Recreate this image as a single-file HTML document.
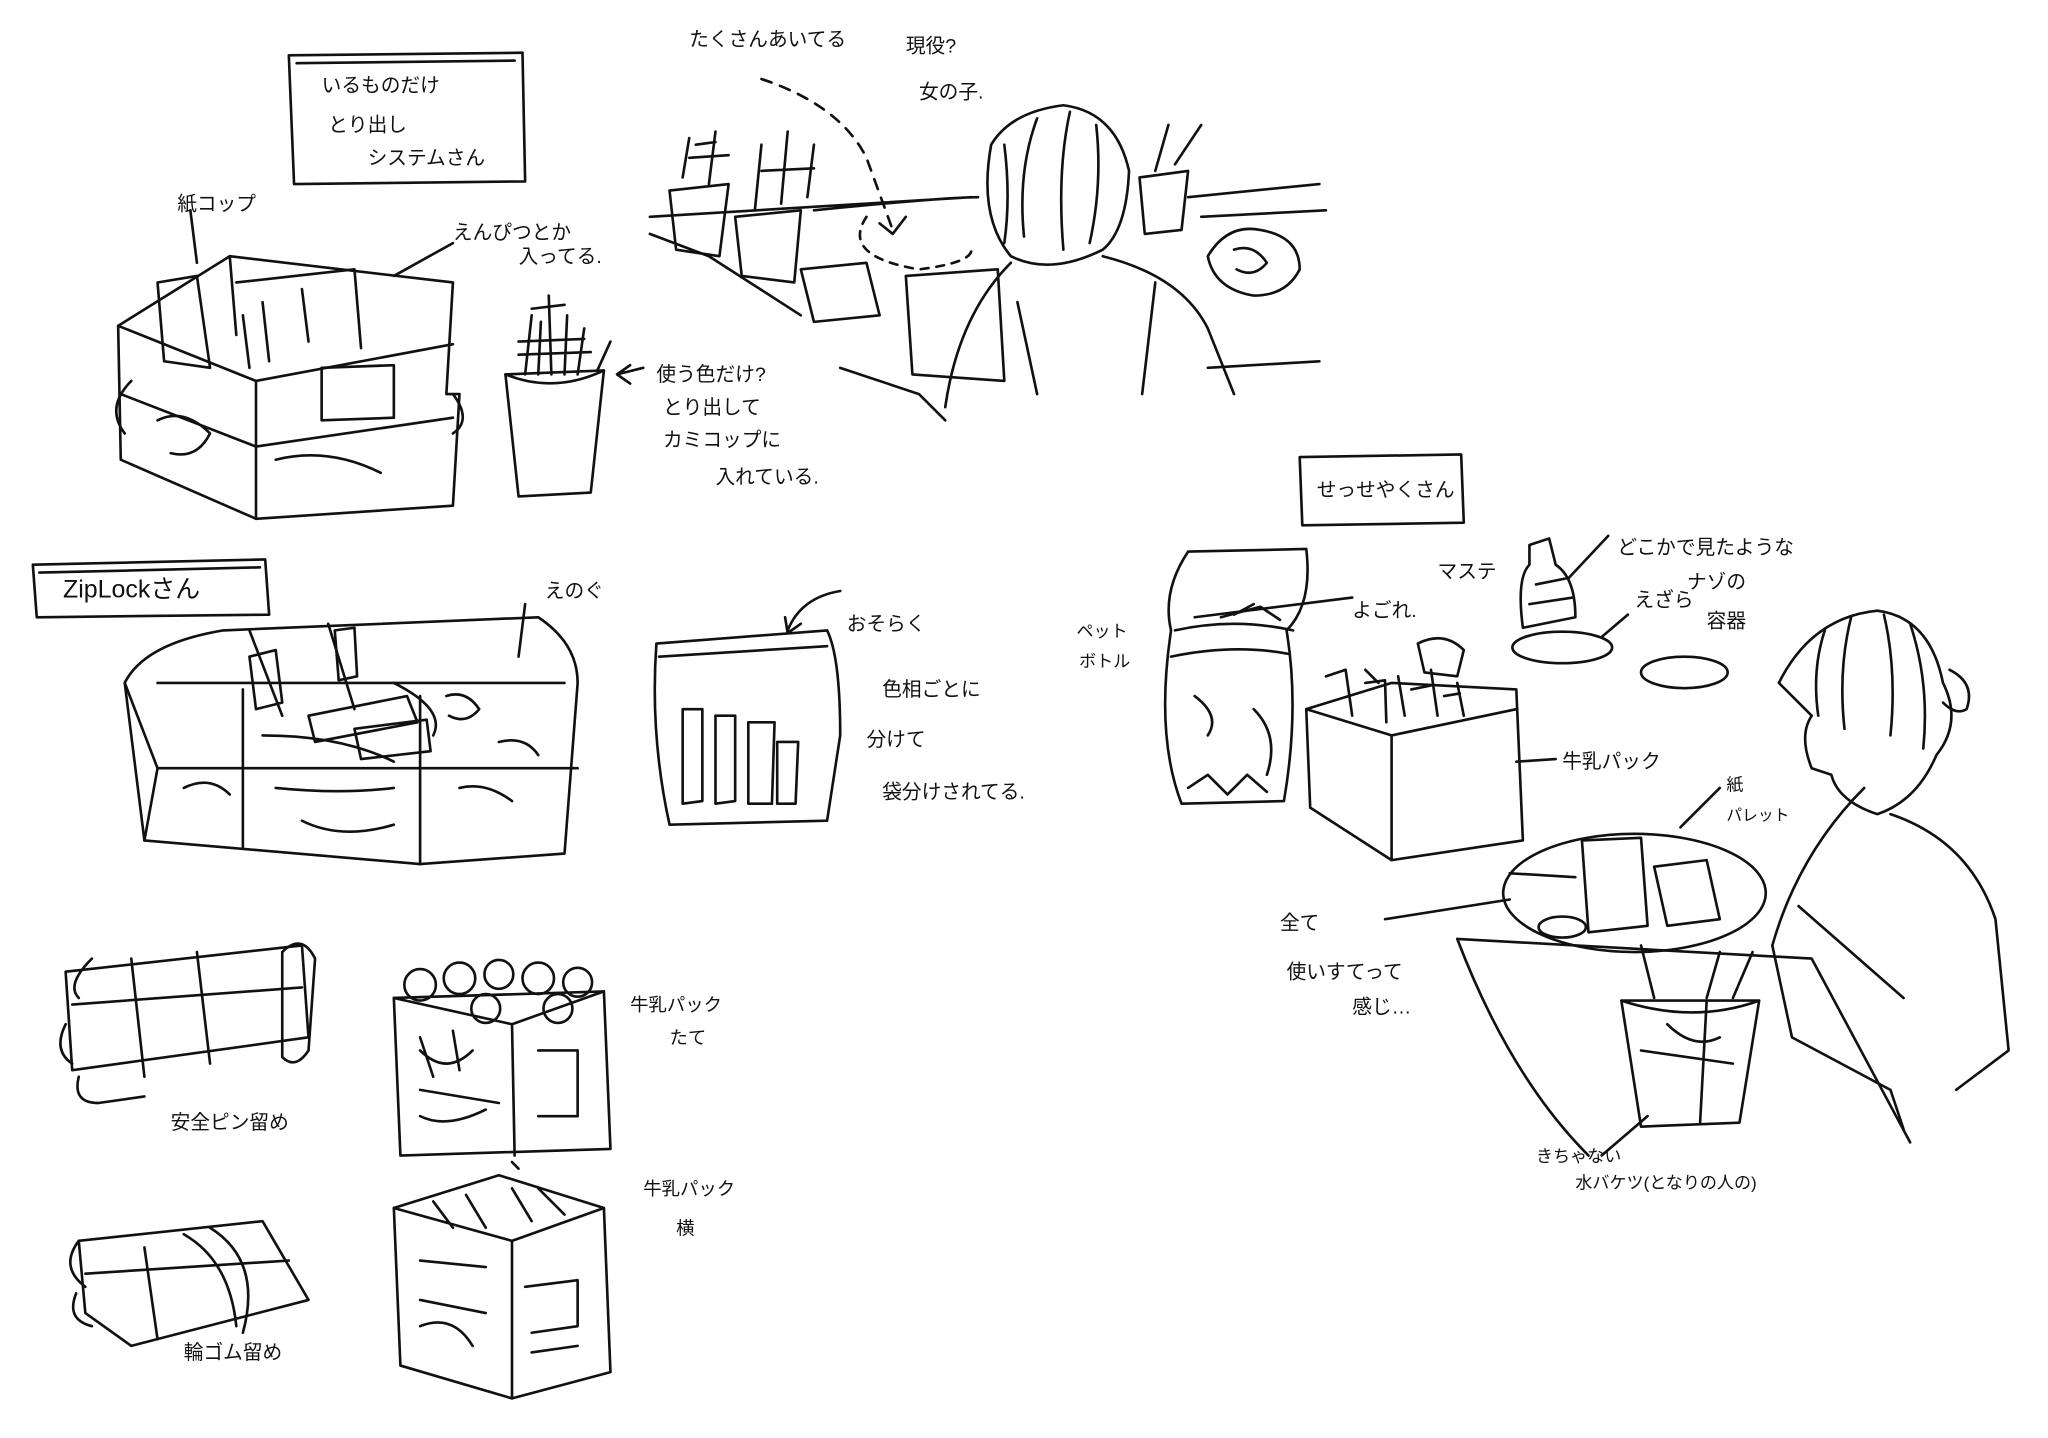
<!DOCTYPE html>
<html><head><meta charset="utf-8">
<style>
html,body{margin:0;padding:0;background:#fff;}
svg{display:block;}
text{font-family:"Liberation Sans","Noto Sans CJK JP",sans-serif;fill:#111;}
</style></head><body>
<svg width="2048" height="1438" viewBox="0 0 1560 1095" xmlns="http://www.w3.org/2000/svg">
<rect width="1560" height="1095" fill="#fff"/>
<g fill="none" stroke="#111" stroke-width="2" stroke-linecap="round" stroke-linejoin="round">
<!-- label boxes -->
<path d="M220 42 L398 40 L400 138 L224 140 Z"/><path d="M226 48 L392 46"/>
<path d="M990 348 L1113 346 L1115 398 L992 400 Z"/>
<path d="M25 430 L202 426 L205 468 L28 470 Z"/><path d="M30 436 L198 432"/>
<!-- basket -->
<path d="M90 248 L175 195 L345 215 L340 300 L350 300 L345 385 L195 395 L92 350 Z"/>
<path d="M90 248 L195 290 L345 262"/><path d="M195 290 L195 395"/>
<path d="M92 300 L195 340 L345 318"/>
<path d="M120 215 L150 210 L160 280 L125 275 Z"/><path d="M175 195 L180 255"/>
<path d="M180 215 L270 205 L275 265"/>
<path d="M245 280 L300 278 L300 318 L245 320 Z"/>
<path d="M95 330 Q80 310 100 290 M345 300 Q360 320 345 330"/>
<path d="M150 200 L145 160 M300 210 L345 185"/>
<path d="M120 320 Q140 310 160 330 Q150 350 130 345 M210 350 Q250 340 290 360 M185 240 L190 280 M200 230 L205 275 M230 220 L235 260"/>
<!-- cup right of basket -->
<path d="M385 285 L460 282 L450 375 L395 378 Z"/><path d="M385 285 Q422 300 460 282"/>
<path d="M400 285 L405 240 M420 285 L418 225 M440 285 L445 250 M455 282 L465 260"/>
<path d="M395 260 L445 258 M405 235 L430 232"/>
<path d="M410 285 L412 245 M430 285 L432 240 M395 270 L450 268"/>
<path d="M470 285 L490 280 M480 278 L470 285 L480 292"/>
<!-- top scene -->
<path d="M495 178 L540 195 L610 240 M495 165 L740 150 M620 160 Q720 150 745 150"/>
<path d="M510 145 L555 140 L548 195 L515 190 Z"/><path d="M560 165 L610 160 L605 215 L565 210 Z"/>
<path d="M520 135 L525 105 M540 140 L545 100 M575 160 L580 110 M595 155 L600 100 M615 150 L620 110"/>
<path d="M525 120 L555 118 M580 130 L620 128 M530 110 L545 108"/>
<path d="M610 205 L660 200 L670 240 L620 245 Z"/>
<path d="M580 60 Q640 80 660 120 L680 175" stroke-dasharray="8 7"/>
<path d="M670 170 L680 178 L690 165"/>
<path d="M660 165 Q640 195 700 205 Q740 200 740 190" stroke-dasharray="6 6"/>
<path d="M690 210 L760 205 L765 290 L695 285 Z"/>
<path d="M755 110 Q770 85 810 80 Q850 85 860 130 Q858 175 840 190 Q800 210 770 195 Q745 165 755 110 Z"/>
<path d="M790 90 Q775 130 780 180 M815 85 Q805 130 810 190 M835 95 Q840 140 830 185 M765 110 Q770 150 765 185"/>
<path d="M770 200 Q730 240 720 310 M840 195 Q900 210 920 250 L940 300"/>
<path d="M775 230 L790 300 M880 215 L870 300"/>
<path d="M640 280 L700 300 L720 320"/>
<path d="M868 135 L905 130 L900 175 L872 178 Z M880 130 L890 95 M895 125 L915 95"/>
<path d="M905 150 L1005 140 M915 165 L1010 160 M920 280 L1005 275"/>
<path d="M920 195 Q935 170 960 175 Q990 180 990 205 Q980 225 955 225 Q925 220 920 195 Z"/>
<path d="M940 190 Q955 185 965 200 Q955 212 942 205"/>
<!-- ziplock bag -->
<path d="M95 520 Q110 490 170 480 L410 470 Q440 490 440 520 L430 650 L320 658 L110 640 Z"/>
<path d="M95 520 L120 585 L110 640 M120 585 L440 585"/>
<path d="M120 520 L430 520 M185 525 L185 645 M320 530 L320 658"/>
<path d="M190 480 L215 545 M250 475 L270 540 M300 520 Q340 540 330 560 M200 560 Q260 560 300 580"/>
<path d="M400 460 L395 500"/>
<path d="M190 500 L210 495 L215 535 L195 540 Z M255 480 L270 478 L272 515 L258 518 Z M235 545 L310 530 L318 550 L240 565 Z M270 555 L325 548 L328 572 L275 578 Z M340 530 Q355 525 365 540 Q355 552 342 545"/>
<path d="M140 600 Q160 590 175 605 M210 600 Q260 605 300 600 M230 625 Q260 640 300 628 M350 600 Q370 595 390 610 M380 565 Q400 560 410 575"/>
<!-- small bag -->
<path d="M500 490 L630 480 Q640 500 640 560 L630 625 L510 628 Q495 560 500 490 Z"/>
<path d="M502 500 L630 492"/>
<path d="M520 540 L535 540 L535 610 L520 612 Z M545 545 L560 545 L560 610 L545 612 Z M570 550 L590 550 L588 612 L570 612 Z M592 565 L608 565 L606 612 L592 612 Z"/>
<path d="M600 480 Q610 455 640 450 M598 470 L600 482 L610 475"/>
<!-- pet bottle -->
<path d="M905 420 L995 418 Q1000 460 980 480 Q990 540 978 610 L900 612 Q880 560 892 480 Q885 450 905 420 Z"/>
<path d="M895 480 Q940 470 985 480 M892 500 Q940 490 982 498"/>
<path d="M930 470 L960 462 L975 472 M940 468 L955 460 M905 600 L920 590 L935 605 L950 590 L965 603"/>
<path d="M910 530 Q930 545 920 560 M955 540 Q975 560 965 590"/>
<path d="M910 470 L1030 455"/>
<!-- milk carton -->
<path d="M995 540 L1060 520 L1155 525 L1160 640 L1060 655 L998 615 Z"/>
<path d="M995 540 L1060 560 L1155 540 M1060 560 L1060 655"/>
<path d="M1010 515 L1025 510 L1030 545 M1040 510 L1050 520 M1065 515 L1070 545 M1090 510 L1095 545 M1110 520 L1115 545"/>
<path d="M1040 520 L1055 518 L1056 550 M1075 525 L1090 522 M1100 530 L1112 528"/>
<path d="M1080 490 Q1100 480 1115 495 L1110 515 L1085 512 Z"/>
<path d="M1155 580 L1185 578"/>
<!-- bottle container and plates -->
<path d="M1165 415 L1180 410 L1185 430 Q1200 440 1200 470 L1160 478 Q1155 440 1165 430 Z"/>
<path d="M1170 445 L1195 440 M1165 460 L1198 455"/>
<path d="M1195 440 L1225 408"/>
<ellipse cx="1190" cy="493" rx="38" ry="12"/><ellipse cx="1283" cy="512" rx="33" ry="12"/>
<path d="M1220 485 L1240 468"/>
<!-- person right -->
<path d="M1355 520 Q1380 470 1430 465 Q1470 470 1480 520 Q1495 550 1475 575 Q1460 610 1430 620 Q1400 610 1395 590 L1380 585 Q1370 560 1380 545 Z"/>
<path d="M1390 480 Q1380 510 1385 545 M1410 470 Q1400 510 1405 555 M1435 468 Q1445 510 1440 560 M1455 475 Q1470 520 1465 570"/>
<path d="M1485 510 Q1505 520 1498 540 Q1490 545 1480 535"/>
<path d="M1420 600 Q1370 650 1350 720 M1440 620 Q1500 640 1520 700 L1530 800 L1490 830"/>
<path d="M1350 720 L1365 790 L1440 830 M1370 690 L1450 760 M1440 830 L1450 860"/>
<!-- table -->
<path d="M1110 715 L1380 730 L1455 870 M1110 715 Q1150 820 1210 880"/>
<ellipse cx="1245" cy="680" rx="100" ry="45"/>
<path d="M1205 640 L1250 638 L1255 705 L1210 710 Z"/>
<path d="M1260 660 L1300 655 L1310 700 L1270 705 Z"/>
<ellipse cx="1190" cy="706" rx="18" ry="8"/>
<path d="M1235 762 L1340 762 L1325 855 L1250 858 Z M1235 762 Q1290 780 1340 762"/>
<path d="M1260 760 L1250 720 M1300 760 L1310 725 M1320 760 L1335 725 M1300 762 L1295 855"/>
<path d="M1270 780 Q1290 800 1310 790 M1250 800 L1320 810"/>
<path d="M1055 700 L1150 685 M1150 665 L1200 668 M1220 880 L1255 850 M1280 630 L1310 600"/>
<!-- safety pin tubes -->
<path d="M50 740 L230 720 L235 790 L55 815 Z"/>
<path d="M70 730 Q50 750 60 760 M50 780 Q40 800 55 810 M60 820 Q55 840 75 840 L110 835"/>
<path d="M100 730 L110 820 M150 725 L160 810"/>
<path d="M55 765 L230 752"/>
<path d="M215 725 Q230 710 240 730 L235 800 Q225 815 215 805 Z"/>
<!-- rubber band tubes -->
<path d="M60 945 L200 930 L235 990 L100 1025 L65 1000 Z"/>
<path d="M60 945 Q45 965 65 980 M58 985 Q50 1005 70 1010"/>
<path d="M140 940 Q175 960 180 1010 M160 935 Q200 960 185 1015 M110 950 L120 1020"/>
<path d="M65 970 L220 960"/>
<!-- milk carton vertical -->
<path d="M300 760 L460 755 L465 875 L305 880 Z"/>
<path d="M300 760 L390 780 L460 755 M390 780 L392 880"/>
<circle cx="320" cy="750" r="12"/><circle cx="350" cy="745" r="12"/><circle cx="380" cy="742" r="11"/><circle cx="410" cy="745" r="12"/><circle cx="440" cy="748" r="11"/><circle cx="370" cy="768" r="11"/><circle cx="425" cy="768" r="11"/>
<path d="M320 800 Q340 820 360 800 M320 830 L380 840 M410 800 L440 800 L440 850 L410 850"/>
<path d="M320 790 L330 820 M345 785 L350 815 M320 850 Q340 860 370 845"/>
<path d="M390 885 L395 890"/>
<!-- milk carton horizontal -->
<path d="M300 920 L380 895 L460 920 L465 1045 L390 1065 L305 1040 Z"/>
<path d="M300 920 L390 945 L460 920 M390 945 L390 1065"/>
<path d="M330 915 L345 935 M355 910 L370 935 M390 905 L405 930 M410 905 L430 925"/>
<path d="M320 960 L370 965 M320 990 L370 1000 M400 980 L440 975 L440 1010 L405 1015"/>
<path d="M320 1010 Q345 1000 360 1025 M405 1030 L440 1025"/>
</g>
<g font-size="15">
<text x="245" y="70">いるものだけ</text>
<text x="250" y="100">とり出し</text>
<text x="280" y="125">システムさん</text>
<text x="135" y="160">紙コップ</text>
<text x="345" y="182">えんぴつとか</text>
<text x="395" y="200">入ってる.</text>
<text x="500" y="290">使う色だけ?</text>
<text x="505" y="315">とり出して</text>
<text x="505" y="340">カミコップに</text>
<text x="545" y="368">入れている.</text>
<text x="525" y="35">たくさんあいてる</text>
<text x="690" y="40">現役?</text>
<text x="700" y="75">女の子.</text>
<text x="1003" y="378">せっせやくさん</text>
<text x="48" y="455" font-size="19">ZipLockさん</text>
<text x="415" y="455">えのぐ</text>
<text x="645" y="480">おそらく</text>
<text x="672" y="530">色相ごとに</text>
<text x="660" y="568">分けて</text>
<text x="672" y="608">袋分けされてる.</text>
<text x="820" y="485" font-size="13">ペット</text>
<text x="822" y="508" font-size="13">ボトル</text>
<text x="1030" y="470">よごれ.</text>
<text x="1095" y="440">マステ</text>
<text x="1232" y="422">どこかで見たような</text>
<text x="1285" y="448">ナゾの</text>
<text x="1300" y="478">容器</text>
<text x="1245" y="462">えざら</text>
<text x="1190" y="585">牛乳パック</text>
<text x="1315" y="602" font-size="13">紙</text>
<text x="1315" y="625" font-size="12">パレット</text>
<text x="975" y="708">全て</text>
<text x="980" y="745">使いすてって</text>
<text x="1030" y="772">感じ…</text>
<text x="1170" y="885" font-size="13">きちゃない</text>
<text x="1200" y="905" font-size="13">水バケツ(となりの人の)</text>
<text x="130" y="860">安全ピン留め</text>
<text x="480" y="770" font-size="14">牛乳パック</text>
<text x="510" y="795" font-size="14">たて</text>
<text x="490" y="910" font-size="14">牛乳パック</text>
<text x="515" y="940" font-size="14">横</text>
<text x="140" y="1035">輪ゴム留め</text>
</g>
</svg>
</body></html>
